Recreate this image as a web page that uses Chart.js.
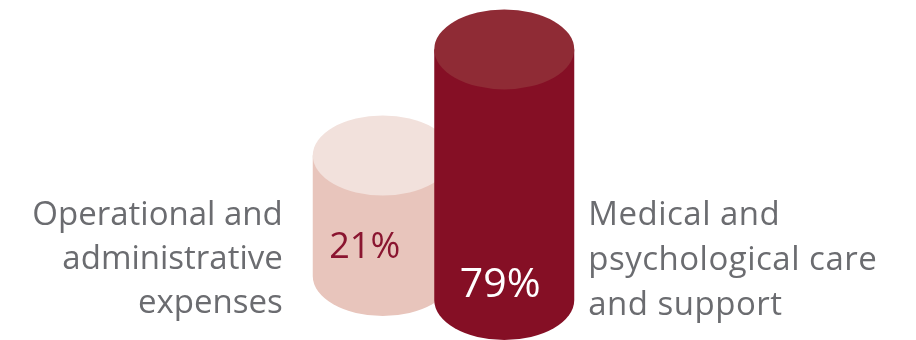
<!DOCTYPE html>
<html>
<head>
<meta charset="utf-8">
<script src="https://cdn.jsdelivr.net/npm/chart.js@4"></script>
<style>
  html, body { margin: 0; padding: 0; background: #fff; }
  #wrap { width: 916px; height: 340px; }
</style>
</head>
<body>
<div id="wrap"><canvas id="myChart"></canvas></div>
<script>
var categories = ['Operational and administrative expenses', 'Medical and psychological care and support'];
var labelLines = [['Operational and', 'administrative', 'expenses'], ['Medical and', 'psychological care', 'and support']];
var shares = [21, 79];
var shareLabels = ['21%', '79%'];

var bodyColors = ['#e8c5bc', '#850f25'];
var topColors = ['#f2e1dc', '#8f2b35'];
var pctColors = ['#8a1530', '#ffffff'];

var cylinders = {
    id: 'cylinders',
    afterDatasetsDraw: function (chart) {
        var c = chart.ctx;
        var area = chart.chartArea;
        var meta = chart.getDatasetMeta(0);
        var ry = 40;
        meta.data.forEach(function (bar, i) {
            var rx = bar.width / 2;
            var x = bar.x;
            var top = bar.y;
            // the back cylinder stands a little higher
            var bottom = area.bottom - (i === 0 ? 24 : 0);
            c.save();
            c.fillStyle = bodyColors[i];
            c.beginPath();
            c.moveTo(x - rx, top);
            c.lineTo(x - rx, bottom);
            c.ellipse(x, bottom, rx, ry, 0, Math.PI, 0, true);
            c.lineTo(x + rx, top);
            c.closePath();
            c.fill();
            c.fillStyle = topColors[i];
            c.beginPath();
            c.ellipse(x, top, rx, ry, 0, 0, Math.PI * 2);
            c.fill();

            // percentages
            c.fillStyle = pctColors[i];
            c.textAlign = 'center';
            c.textBaseline = 'alphabetic';
            if (i === 0) {
                c.font = '36px "Open Sans"';
                c.fillText(shareLabels[i], x - 18, bottom - 18);
            } else {
                c.font = '41px "Open Sans"';
                c.fillText(shareLabels[i], x - 4, bottom - 3);
            }

            // category labels
            c.fillStyle = '#6b6c70';
            var base = area.bottom - 75;
            labelLines[i].forEach(function (line, k) {
                if (i === 0) {
                    c.font = '33px "Open Sans"';
                    c.textAlign = 'right';
                    c.fillText(line, x - rx - 30, base + k * 44);
                } else {
                    c.font = '33px "Open Sans"';
                    c.letterSpacing = '0.5px';
                    c.textAlign = 'left';
                    c.fillText(line, x + rx + 14, base + k * 45);
                }
            });
            c.restore();
        });
    }
};

var ctx = document.getElementById('myChart');
new Chart(ctx, {
    type: 'bar',
    data: {
        labels: categories,
        datasets: [
            {
                label: 'Share',
                data: shares,
                backgroundColor: 'rgba(0,0,0,0)',
                barThickness: 140
            }
        ]
    },
    options: {
        responsive: true,
        maintainAspectRatio: false,
        animation: false,
        layout: { padding: { left: 322, right: 351, top: 11, bottom: 40 } },
        plugins: {
            legend: { display: false },
            tooltip: { enabled: false }
        },
        scales: {
            x: { display: false },
            y: { display: false, min: -58, max: 100 }
        }
    },
    plugins: [cylinders]
});
</script>
</body>
</html>
